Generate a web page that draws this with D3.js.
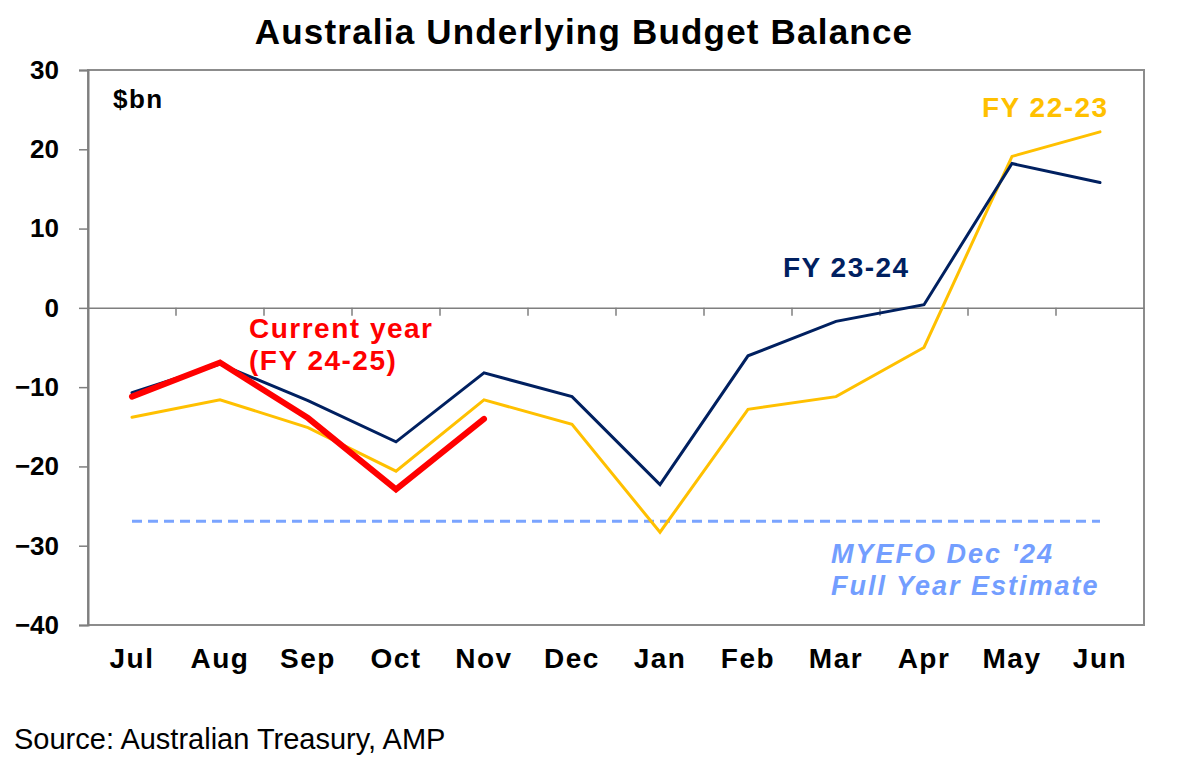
<!DOCTYPE html>
<html>
<head>
<meta charset="utf-8">
<script src="https://cdn.jsdelivr.net/npm/d3@7"></script>
<style>
  body { margin: 0; background: #fff; }
  svg { display: block; font-family: "Liberation Sans", Arial, sans-serif; }
</style>
</head>
<body>
<svg id="chart" width="1179" height="775"></svg>
<script>
// months of the financial year
const months = ["Jul", "Aug", "Sep", "Oct", "Nov", "Dec", "Jan", "Feb", "Mar", "Apr", "May", "Jun"];

// $bn
const fy2223 = [-13.8, -11.6, -15.1, -20.6, -11.6, -14.7, -28.3, -12.8, -11.2, -5.0, 19.1, 22.2];
const fy2324 = [-10.7, -7.1, -11.7, -16.9, -8.2, -11.2, -22.3, -6.05, -1.7, 0.4, 18.2, 15.8];
const fy2425 = [-11.2, -6.9, -13.9, -22.9, -14.0];
const myefo = -26.9;

const yTicks = [30, 20, 10, 0, -10, -20, -30, -40];

const margin = { top: 70, left: 88 };
const width = 1056;
const height = 555;

const svg = d3.select("#chart");

const x = d3.scaleBand().domain(months).range([0, width]);
const y = d3.scaleLinear().domain([-40, 30]).range([height, 0]);
const cx = (m) => x(m) + x.bandwidth() / 2;

// title
svg.append("text")
    .attr("x", 584)
    .attr("y", 44)
    .attr("text-anchor", "middle")
    .attr("font-size", 35)
    .attr("font-weight", "bold")
    .attr("letter-spacing", 1.2)
    .text("Australia Underlying Budget Balance");

const g = svg.append("g")
    .attr("transform", `translate(${margin.left},${margin.top})`);

// frame
g.append("rect")
    .attr("width", width)
    .attr("height", height)
    .attr("fill", "none")
    .attr("stroke", "#8c8c8c")
    .attr("stroke-width", 2);

// y axis
const yAxis = g.append("g")
    .call(d3.axisLeft(y).tickValues(yTicks).tickSize(9).tickPadding(20));
yAxis.select(".domain").attr("stroke", "#7f7f7f").attr("stroke-width", 2);
yAxis.selectAll(".tick line").attr("stroke", "#7f7f7f").attr("stroke-width", 1.5);
yAxis.selectAll(".tick text")
    .attr("font-size", 26)
    .attr("font-weight", "bold")
    .attr("font-family", "Liberation Sans, Arial, sans-serif")
    .attr("fill", "#000");

// zero line with month boundary ticks
const xAxis = g.append("g")
    .attr("transform", `translate(0,${y(0)})`)
    .call(d3.axisBottom(x).tickSize(0).tickFormat(""));
xAxis.select(".domain").attr("stroke", "#7f7f7f").attr("stroke-width", 1.5);
g.append("g")
    .selectAll("line")
    .data(months.slice(1))
    .join("line")
    .attr("x1", (d) => x(d))
    .attr("x2", (d) => x(d))
    .attr("y1", y(0))
    .attr("y2", y(0) + 8)
    .attr("stroke", "#7f7f7f")
    .attr("stroke-width", 1.5);

// month labels below the frame
g.append("g")
    .selectAll("text")
    .data(months)
    .join("text")
    .attr("x", (d) => cx(d))
    .attr("y", 598)
    .attr("text-anchor", "middle")
    .attr("font-size", 28)
    .attr("font-weight", "bold")
    .attr("letter-spacing", 1.5)
    .text((d) => d);

// MYEFO estimate
g.append("line")
    .attr("x1", cx("Jul"))
    .attr("x2", cx("Jun"))
    .attr("y1", y(myefo))
    .attr("y2", y(myefo))
    .attr("stroke", "#7aa4ff")
    .attr("stroke-width", 3)
    .attr("stroke-dasharray", "10,6");

const line = d3.line()
    .x((d, i) => cx(months[i]))
    .y((d) => y(d));

const series = [
    { values: fy2223, color: "#ffc000", w: 3 },
    { values: fy2324, color: "#002060", w: 3 },
    { values: fy2425, color: "#ff0000", w: 6 },
];

g.selectAll("path.series")
    .data(series)
    .join("path")
    .attr("class", "series")
    .attr("d", (d) => line(d.values))
    .attr("fill", "none")
    .attr("stroke", (d) => d.color)
    .attr("stroke-width", (d) => d.w)
    .attr("stroke-linejoin", "miter")
    .attr("stroke-linecap", "round");

// annotations
const labels = [
    { text: "$bn", x: 113, y: 108, color: "#000", size: 26, ls: 1.5 },
    { text: "FY 22-23", x: 982, y: 117, color: "#ffc000", size: 28, ls: 1.5 },
    { text: "FY 23-24", x: 783, y: 277, color: "#002060", size: 28, ls: 1.5 },
    { text: "Current year", x: 249, y: 338, color: "#ff0000", size: 28, ls: 1.5 },
    { text: "(FY 24-25)", x: 249, y: 370, color: "#ff0000", size: 28, ls: 1.5 },
    { text: "MYEFO Dec '24", x: 831, y: 563, color: "#739eff", size: 27, ls: 2, italic: true },
    { text: "Full Year Estimate", x: 831, y: 595, color: "#739eff", size: 27, ls: 2, italic: true },
];

svg.append("g")
    .selectAll("text")
    .data(labels)
    .join("text")
    .attr("x", (d) => d.x)
    .attr("y", (d) => d.y)
    .attr("fill", (d) => d.color)
    .attr("font-size", (d) => d.size)
    .attr("font-weight", "bold")
    .attr("font-style", (d) => (d.italic ? "italic" : "normal"))
    .attr("letter-spacing", (d) => d.ls)
    .text((d) => d.text);

// source
svg.append("text")
    .attr("x", 14)
    .attr("y", 749)
    .attr("font-size", 29)
    .text("Source: Australian Treasury, AMP");
</script>
</body>
</html>
